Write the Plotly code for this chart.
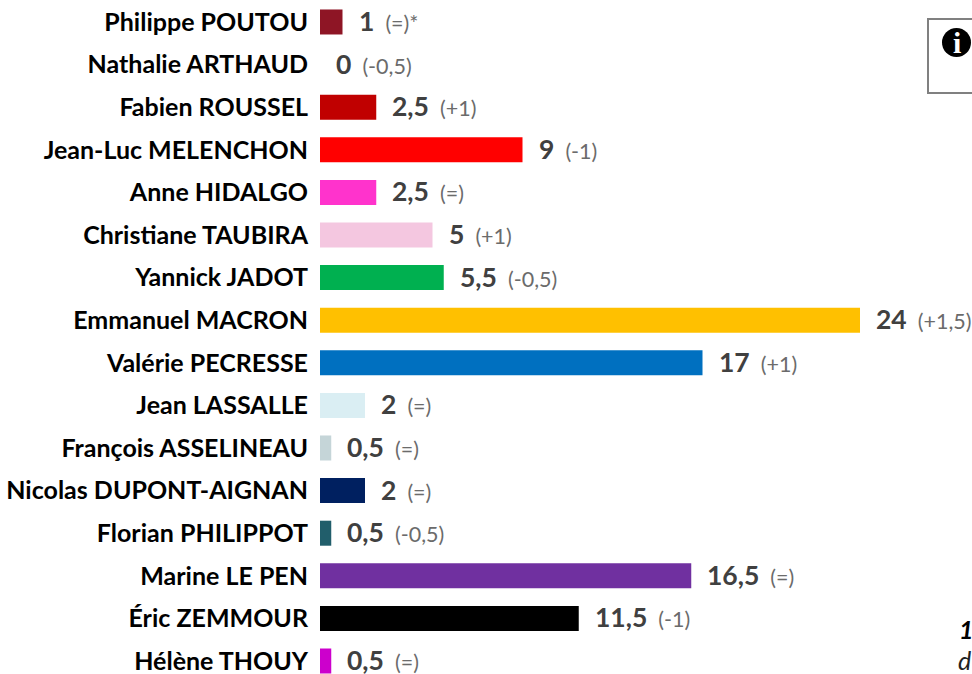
import plotly.graph_objects as go

candidates = ["Philippe POUTOU", "Nathalie ARTHAUD", "Fabien ROUSSEL", "Jean-Luc MELENCHON",
              "Anne HIDALGO", "Christiane TAUBIRA", "Yannick JADOT", "Emmanuel MACRON",
              "Valérie PECRESSE", "Jean LASSALLE", "François ASSELINEAU", "Nicolas DUPONT-AIGNAN",
              "Florian PHILIPPOT", "Marine LE PEN", "Éric ZEMMOUR", "Hélène THOUY"]
values = [1, 0, 2.5, 9, 2.5, 5, 5.5, 24, 17, 2, 0.5, 2, 0.5, 16.5, 11.5, 0.5]
value_labels = ["1", "0", "2,5", "9", "2,5", "5", "5,5", "24", "17", "2", "0,5", "2", "0,5", "16,5", "11,5", "0,5"]
changes = ["(=)*", "(-0,5)", "(+1)", "(-1)", "(=)", "(+1)", "(-0,5)", "(+1,5)", "(+1)", "(=)", "(=)", "(=)",
           "(-0,5)", "(=)", "(-1)", "(=)"]
colors = ["#8E1525", "#8E1525", "#C00000", "#FF0000", "#FF33CC", "#F4C7E0", "#00B050", "#FFC000",
          "#0070C0", "#DAEEF3", "#C5D5D8", "#002060", "#215E6B", "#7030A0", "#000000", "#CC00CC"]

FONT = "Lato, Carlito, sans-serif"
fig = go.Figure(go.Bar(
    x=values, y=candidates, orientation="h",
    marker=dict(color=colors, line=dict(width=0)),
    hoverinfo="skip", showlegend=False,
))

annotations = []
for name, v, lab, ch in zip(candidates, values, value_labels, changes):
    annotations.append(dict(
        x=v, y=name, xref="x", yref="y", xanchor="left", yanchor="middle",
        xshift=14, yshift=1, showarrow=False, align="left",
        text=f'<b>{lab}</b><span style="font-size:21.5px;color:#6b6b6b">&nbsp;&nbsp;{ch}</span>',
        font=dict(family=FONT, size=26.5, color="#404040"),
    ))

W, H = 972, 674
L = 320
def px(x): return (x - L) / (W - L)
def py(y): return 1 - y / H

annotations += [
    dict(x=px(956.5), y=py(42), xref="paper", yref="paper", text="<b>i</b>", showarrow=False,
         font=dict(family="Liberation Serif, serif", size=30, color="white"), xanchor="center", yanchor="middle"),
    dict(x=px(957), y=py(629), xref="paper", yref="paper", text="<b><i>1</i></b>", showarrow=False,
         font=dict(family=FONT, size=25, color="black"), xanchor="left", yanchor="middle"),
    dict(x=px(956), y=py(660), xref="paper", yref="paper", text="<i>d</i>", showarrow=False,
         font=dict(family=FONT, size=25, color="#222222"), xanchor="left", yanchor="middle"),
]

shapes = [
    dict(type="rect", xref="paper", yref="paper", x0=px(928), x1=px(985), y0=py(19), y1=py(93),
         line=dict(color="#808080", width=2), fillcolor="white"),
    dict(type="circle", xref="paper", yref="paper", x0=px(942), x1=px(971), y0=py(28), y1=py(57),
         line=dict(width=0), fillcolor="black"),
]

fig.update_layout(
    width=W, height=H, autosize=False,
    margin=dict(l=L, r=0, t=0, b=0, pad=0),
    paper_bgcolor="white", plot_bgcolor="white",
    bargap=0.413, showlegend=False,
    xaxis=dict(range=[0, 652 / 22.5], visible=False, fixedrange=True),
    yaxis=dict(type="category", categoryorder="array", categoryarray=candidates,
               range=[15.305, -0.516], showline=False, showgrid=False, zeroline=False,
               ticks="", ticklabelstandoff=11, fixedrange=True,
               tickfont=dict(family=FONT, size=25, color="black", weight="bold")),
    annotations=annotations, shapes=shapes,
)
fig.write_html("out.html", config=dict(displayModeBar=False),
               post_script="document.body.style.margin='0';document.documentElement.style.overflow='hidden';")
